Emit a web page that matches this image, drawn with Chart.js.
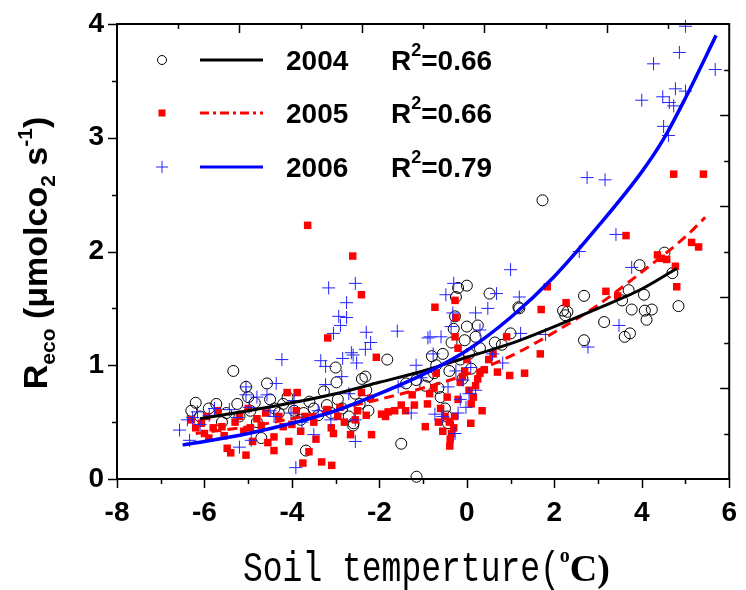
<!DOCTYPE html>
<html>
<head>
<meta charset="utf-8">
<script src="https://cdn.jsdelivr.net/npm/chart.js@4.4.1/dist/chart.umd.min.js"></script>
<style>
  html, body { margin: 0; padding: 0; background: #fff; }
</style>
</head>
<body>
<canvas id="reco-chart" width="746" height="590"></canvas>
<script>
// measured points [soil temperature, Reco]
var data2004 = [[-6.2,0.67],[-6.3,0.6],[-6.1,0.55],[-5.9,0.62],[-5.73,0.66],[-5.6,0.5],[-5.5,0.58],[-5.34,0.95],[-5.25,0.66],[-5.2,0.55],
  [-5.05,0.81],[-5.0,0.72],[-4.95,0.6],[-4.85,0.67],[-4.8,0.5],[-4.7,0.36],[-4.57,0.84],[-4.5,0.7],[-4.4,0.62],[-4.3,0.58],
  [-4.2,0.66],[-4.1,0.72],[-3.95,0.6],[-3.8,0.52],[-3.73,0.58],[-3.68,0.25],[-3.6,0.68],[-3.5,0.62],[-3.4,0.56],[-3.27,0.77],
  [-3.2,0.65],[-3.1,0.58],[-3.0,0.98],[-2.98,0.85],[-2.95,0.7],[-2.85,0.62],[-2.7,0.55],[-2.6,0.47],[-2.59,0.49],[-2.55,0.75],
  [-2.45,0.66],[-2.4,0.88],[-2.32,0.9],[-2.3,0.78],[-2.25,0.6],[-1.82,1.05],[-1.5,0.31],[-1.39,0.84],[-1.16,0.87],[-1.15,0.02],
  [-0.95,0.82],[-0.89,0.9],[-0.8,1.08],[-0.75,0.93],[-0.7,1.0],[-0.65,0.8],[-0.6,0.72],[-0.55,1.1],[-0.5,0.62],[-0.45,0.55],
  [-0.43,0.49],[-0.4,0.95],[-0.35,1.2],[-0.3,1.32],[-0.27,1.43],[-0.25,1.6],[-0.2,1.68],[-0.15,1.05],[-0.1,0.88],[-0.05,1.22],
  [0.0,1.7],[0.0,1.34],[0.05,1.1],[0.1,0.97],[0.2,1.25],[0.25,1.35],[0.3,1.15],[0.52,1.63],[0.64,1.2],[0.8,1.18],
  [1.0,1.28],[1.18,1.51],[1.2,1.5],[1.73,2.45],[2.2,1.48],[2.25,1.44],[2.3,1.47],[2.68,1.61],[2.68,1.22],[3.14,1.38],
  [3.55,1.57],[3.61,1.25],[3.7,1.66],[3.73,1.28],[3.77,1.49],[3.95,1.88],[4.05,1.62],[4.07,1.48],[4.11,1.4],[4.23,1.49],
  [4.52,1.99],[4.7,1.81],[4.84,1.52]];

var data2005 = [[-6.3,0.52],[-6.2,0.45],[-6.07,0.49],[-6.0,0.4],[-5.95,0.55],[-5.9,0.36],[-5.8,0.45],[-5.7,0.6],[-5.6,0.46],[-5.55,0.38],
  [-5.48,0.27],[-5.4,0.23],[-5.3,0.5],[-5.2,0.55],[-5.1,0.42],[-5.05,0.21],[-5.0,0.62],[-4.95,0.45],[-4.9,0.33],[-4.8,0.53],
  [-4.7,0.47],[-4.6,0.58],[-4.55,0.32],[-4.41,0.37],[-4.41,0.25],[-4.3,0.55],[-4.2,0.46],[-4.11,0.76],[-4.07,0.33],[-4.0,0.48],
  [-3.9,0.6],[-3.88,0.76],[-3.8,0.42],[-3.75,0.14],[-3.7,0.55],[-3.64,2.23],[-3.61,0.24],[-3.5,0.5],[-3.45,0.35],[-3.32,0.15],
  [-3.2,0.61],[-3.18,1.24],[-3.1,0.45],[-3.09,0.12],[-3.05,0.4],[-2.95,0.55],[-2.9,0.63],[-2.8,0.5],[-2.66,0.39],[-2.61,1.96],
  [-2.55,0.52],[-2.5,0.6],[-2.41,1.62],[-2.41,0.76],[-2.3,0.56],[-2.2,0.71],[-2.18,0.39],[-2.07,1.07],[-1.95,0.57],[-1.86,0.55],
  [-1.8,0.59],[-1.65,0.6],[-1.5,0.65],[-1.4,0.6],[-1.25,0.74],[-1.2,0.65],[-0.95,0.46],[-0.9,0.66],[-0.85,0.75],[-0.75,0.8],
  [-0.73,1.51],[-0.7,0.93],[-0.65,0.5],[-0.6,0.62],[-0.55,0.42],[-0.5,0.55],[-0.45,0.72],[-0.4,0.5],[-0.39,0.29],[-0.38,0.35],
  [-0.35,0.4],[-0.3,0.45],[-0.28,0.55],[-0.27,1.57],[-0.27,1.25],[-0.25,1.42],[-0.2,0.7],[-0.2,1.15],[-0.15,0.85],[-0.1,0.9],
  [-0.05,0.95],[0.0,1.05],[0.05,0.78],[0.09,0.49],[0.1,0.66],[0.15,0.72],[0.2,0.82],[0.25,0.88],[0.3,0.93],[0.35,0.6],
  [0.4,0.96],[0.5,1.05],[0.6,1.1],[0.7,0.94],[0.91,1.25],[0.98,0.91],[1.32,0.93],[1.68,1.1],[1.7,1.49],[1.84,1.69],
  [2.27,1.55],[3.18,1.65],[3.45,1.61],[3.64,2.14],[4.36,1.97],[4.45,1.94],[4.57,1.93],[4.73,2.68],[4.77,1.87],[4.8,1.69],
  [5.14,2.08],[5.3,2.04],[5.41,2.68]];

var data2006 = [[-6.57,0.43],[-6.39,0.52],[-6.34,0.34],[-6.27,0.54],[-6.16,0.59],[-6.1,0.48],[-5.89,0.56],[-5.77,0.62],[-5.43,0.61],[-5.25,0.54],
  [-5.2,0.28],[-5.05,0.74],[-5.05,0.81],[-4.98,0.63],[-4.93,0.34],[-4.8,0.72],[-4.57,0.74],[-4.5,0.6],[-4.41,0.55],[-4.36,0.84],
  [-4.23,1.05],[-4.02,0.58],[-3.95,0.69],[-3.91,0.10],[-3.77,0.5],[-3.5,0.39],[-3.4,0.6],[-3.34,1.04],[-3.23,0.99],[-3.23,0.83],
  [-3.16,1.68],[-3.11,0.52],[-3.05,1.28],[-2.93,1.43],[-2.89,1.35],[-2.86,0.9],[-2.84,1.06],[-2.75,1.55],[-2.75,1.42],[-2.7,0.75],
  [-2.64,1.11],[-2.6,1.09],[-2.55,1.72],[-2.55,0.52],[-2.55,0.33],[-2.52,1.02],[-2.32,1.14],[-2.3,1.29],[-2.2,1.2],[-1.59,1.3],
  [-1.57,0.81],[-1.27,0.58],[-1.16,1.0],[-1.05,0.89],[-0.89,1.24],[-0.84,1.25],[-0.77,1.1],[-0.73,0.57],[-0.59,1.25],[-0.55,0.55],
  [-0.48,1.62],[-0.43,0.81],[-0.36,1.34],[-0.32,1.46],[-0.3,1.72],[-0.27,0.40],[-0.25,0.95],[-0.2,0.58],[-0.15,0.7],[-0.09,0.87],
  [-0.02,0.63],[0.05,0.75],[0.09,0.98],[0.2,1.46],[0.2,0.78],[0.3,1.31],[0.48,1.5],[0.59,1.1],[0.68,1.63],[0.82,1.02],
  [1.0,1.84],[1.2,1.6],[1.23,1.28],[1.8,1.27],[2.57,2.0],[2.75,2.65],[2.77,1.16],[3.16,2.63],[3.41,2.15],[3.48,1.35],
  [3.77,1.86],[4.0,3.33],[4.27,3.65],[4.48,3.36],[4.5,3.10],[4.61,3.02],[4.63,3.31],[4.73,3.28],[4.77,3.43],[4.86,3.75],
  [5.0,3.98],[5.0,3.41],[5.68,3.60]];

// fitted curves
var fit2004 = [[-6.1,0.53],[-5,0.60],[-4,0.67],[-3,0.75],[-2,0.85],[-1,0.95],[0,1.07],[1,1.19],[2,1.34],[3,1.50],[4,1.67],[4.8,1.85]];
var fit2005 = [[-6.2,0.40],[-5,0.46],[-4,0.53],[-3,0.61],[-2,0.70],[-1,0.80],[0,0.92],[1,1.08],[2,1.29],[3,1.53],[4,1.82],[5,2.13],[5.45,2.30]];
var fit2006 = [[-6.5,0.30],[-6,0.33],[-5,0.40],[-4,0.49],[-3,0.60],[-2,0.75],[-1,0.92],[0,1.13],[1,1.42],[2,1.78],[3,2.22],[4,2.70],[4.5,2.99],[5,3.35],[5.7,3.90]];

var years = ['2004', '2005', '2006'];
var r2Values = ['0.66', '0.66', '0.79'];
var xRange = [-8, 6];
var yRange = [0, 4];

function toPoints(arr) {
	return arr.map(function(p) { return { x: p[0], y: p[1] }; });
}

var boldFont = '"Liberation Sans", Arial, sans-serif';

// frame and ticks (outer ticks bottom/left, inner ticks top/right)
var framePlugin = {
	id: 'frame',
	afterDatasetsDraw: function(chart) {
		var ctx = chart.ctx, a = chart.chartArea;
		var xs = chart.scales.x, ys = chart.scales.y;
		ctx.save();
		ctx.strokeStyle = '#000';
		ctx.lineWidth = 2;
		ctx.strokeRect(a.left, a.top, a.right - a.left, a.bottom - a.top);
		ctx.lineWidth = 1.5;
		ctx.beginPath();
		for (var v = xRange[0]; v <= xRange[1]; v += 1) {
			var px = Math.round(xs.getPixelForValue(v)) + 0.5;
			var len = (v % 2 === 0) ? 9 : 5;
			ctx.moveTo(px, a.bottom); ctx.lineTo(px, a.bottom + len);
		}
		for (var w = yRange[0]; w <= yRange[1]; w += 0.5) {
			var py = Math.round(ys.getPixelForValue(w)) + 0.5;
			var l2 = (w % 1 === 0) ? 9 : 5;
			ctx.moveTo(a.left, py); ctx.lineTo(a.left - l2, py);
		}
		for (var k = 1; k < 10; k++) {
			var tx = Math.round(xs.getPixelForValue(xRange[0] + (xRange[1] - xRange[0]) * k / 10)) + 0.5;
			var ty = Math.round(ys.getPixelForValue(yRange[0] + (yRange[1] - yRange[0]) * k / 10)) + 0.5;
			var l3 = (k % 2 === 0) ? 9 : 5;
			ctx.moveTo(tx, a.top); ctx.lineTo(tx, a.top + l3);
			ctx.moveTo(a.right, ty); ctx.lineTo(a.right - l3, ty);
		}
		ctx.stroke();
		ctx.restore();
	}
};

function drawMarker(ctx, i, x, y) {
	ctx.save();
	if (i === 0) {
		ctx.strokeStyle = '#000'; ctx.lineWidth = 1;
		ctx.beginPath(); ctx.arc(x, y, 4.5, 0, Math.PI * 2); ctx.stroke();
	} else if (i === 1) {
		ctx.fillStyle = '#ff0000';
		ctx.fillRect(x - 3.5, y - 3.5, 7, 7);
	} else {
		ctx.strokeStyle = '#2222ff'; ctx.lineWidth = 1;
		ctx.beginPath();
		ctx.moveTo(x - 6, y); ctx.lineTo(x + 6, y);
		ctx.moveTo(x, y - 6); ctx.lineTo(x, y + 6);
		ctx.stroke();
	}
	ctx.restore();
}

var legendPlugin = {
	id: 'fitLegend',
	afterDraw: function(chart) {
		var ctx = chart.ctx;
		var rowY = [60, 113, 167];
		var lineColors = ['#000', '#ff0000', '#0000ff'];
		var dashes = [[], [9, 4, 3, 4], []];
		ctx.save();
		for (var i = 0; i < years.length; i++) {
			var y = rowY[i];
			drawMarker(ctx, i, 162, y);
			ctx.strokeStyle = lineColors[i];
			ctx.lineWidth = 3;
			ctx.setLineDash(dashes[i]);
			ctx.beginPath(); ctx.moveTo(200, y); ctx.lineTo(263, y); ctx.stroke();
			ctx.setLineDash([]);
			ctx.fillStyle = '#000';
			ctx.textBaseline = 'alphabetic';
			ctx.textAlign = 'left';
			ctx.font = 'bold 28px ' + boldFont;
			ctx.fillText(years[i], 286, y + 10);
			ctx.fillText('R', 391, y + 10);
			var rw = ctx.measureText('R').width;
			ctx.font = 'bold 18px ' + boldFont;
			ctx.fillText('2', 391 + rw, y - 4);
			var sw = ctx.measureText('2').width;
			ctx.font = 'bold 28px ' + boldFont;
			ctx.fillText('=' + r2Values[i], 391 + rw + sw, y + 10);
		}
		ctx.restore();
	}
};

// axis titles with sub/superscripts
var titlePlugin = {
	id: 'axisTitles',
	afterDraw: function(chart) {
		var ctx = chart.ctx;
		ctx.save();
		ctx.fillStyle = '#000';
		ctx.textBaseline = 'alphabetic';
		ctx.textAlign = 'left';
		// y title
		var parts = [
			{ t: 'R', f: 'bold 34px ' + boldFont, dy: 0 },
			{ t: 'eco', f: 'bold 21px ' + boldFont, dy: 8 },
			{ t: ' (\u03bcmolco', f: 'bold 34px ' + boldFont, dy: 0 },
			{ t: '2', f: 'bold 21px ' + boldFont, dy: 8 },
			{ t: ' s', f: 'bold 34px ' + boldFont, dy: 0 },
			{ t: '-1', f: 'bold 21px ' + boldFont, dy: -15 },
			{ t: ')', f: 'bold 34px ' + boldFont, dy: 0 }
		];
		var total = 0;
		parts.forEach(function(p) { ctx.font = p.f; p.w = ctx.measureText(p.t).width; total += p.w; });
		ctx.translate(47, 253);
		ctx.rotate(-Math.PI / 2);
		var cx = -total / 2;
		parts.forEach(function(p) { ctx.font = p.f; ctx.fillText(p.t, cx, p.dy); cx += p.w; });
		ctx.restore();

		// x title
		ctx.save();
		ctx.fillStyle = '#000';
		ctx.textBaseline = 'alphabetic';
		ctx.font = '33px "Liberation Mono", monospace';
		var base = 581;
		ctx.save();
		ctx.translate(243, base);
		ctx.scale(1, 1.3);
		ctx.fillText('Soil temperture(', 0, 0);
		var w1 = ctx.measureText('Soil temperture(').width;
		ctx.restore();
		var x2 = 243 + w1;
		ctx.font = 'bold 20px "Liberation Serif", serif';
		ctx.fillText('o', x2, base - 19);
		x2 += ctx.measureText('o').width;
		ctx.font = 'bold 38px "Liberation Serif", serif';
		ctx.fillText('C)', x2, base);
		ctx.restore();
	}
};

var ctx = document.getElementById('reco-chart').getContext('2d');
var recoChart = new Chart(ctx, {
	type: 'scatter',
	data: {
		datasets: [
			{
				type: 'line', label: 'fit 2006', data: toPoints(fit2006),
				borderColor: '#0000ff', borderWidth: 3.5, pointRadius: 0,
				cubicInterpolationMode: 'monotone', fill: false, order: 0
			},
			{
				type: 'line', label: 'fit 2004', data: toPoints(fit2004),
				borderColor: '#000', borderWidth: 3, pointRadius: 0,
				cubicInterpolationMode: 'monotone', fill: false, order: 1
			},
			{
				type: 'line', label: 'fit 2005', data: toPoints(fit2005),
				borderColor: '#ff0000', borderWidth: 3, borderDash: [10, 6], pointRadius: 0,
				cubicInterpolationMode: 'monotone', fill: false, order: 2
			},
			{
				label: '2006', data: toPoints(data2006),
				pointStyle: 'cross', pointRadius: 6.5, borderWidth: 1,
				borderColor: '#2222ff', backgroundColor: '#2222ff', clip: false, order: 3
			},
			{
				label: '2005', data: toPoints(data2005),
				pointStyle: 'rect', pointRadius: 5.3, borderWidth: 0,
				borderColor: '#ff0000', backgroundColor: '#ff0000', clip: false, order: 4
			},
			{
				label: '2004', data: toPoints(data2004),
				pointStyle: 'circle', pointRadius: 5.5, borderWidth: 1,
				borderColor: '#000', backgroundColor: 'rgba(255,255,255,0)', clip: false, order: 5
			}
		]
	},
	options: {
		responsive: false,
		animation: false,
		devicePixelRatio: 1,
		layout: { padding: { top: 24, right: 13, left: 0, bottom: 0 } },
		plugins: { legend: { display: false }, tooltip: { enabled: false } },
		scales: {
			x: {
				type: 'linear', min: xRange[0], max: xRange[1],
				grid: { display: false },
				border: { display: false },
				ticks: { stepSize: 2, color: '#000', padding: 9, font: { family: boldFont, size: 28, weight: 'bold' } },
				afterFit: function(scale) { scale.height = 111; }
			},
			y: {
				type: 'linear', min: yRange[0], max: yRange[1],
				grid: { display: false },
				border: { display: false },
				ticks: { stepSize: 1, color: '#000', padding: 5, font: { family: boldFont, size: 28, weight: 'bold' } },
				afterFit: function(scale) { scale.width = 117; }
			}
		}
	},
	plugins: [framePlugin, legendPlugin, titlePlugin]
});
</script>
</body>
</html>
